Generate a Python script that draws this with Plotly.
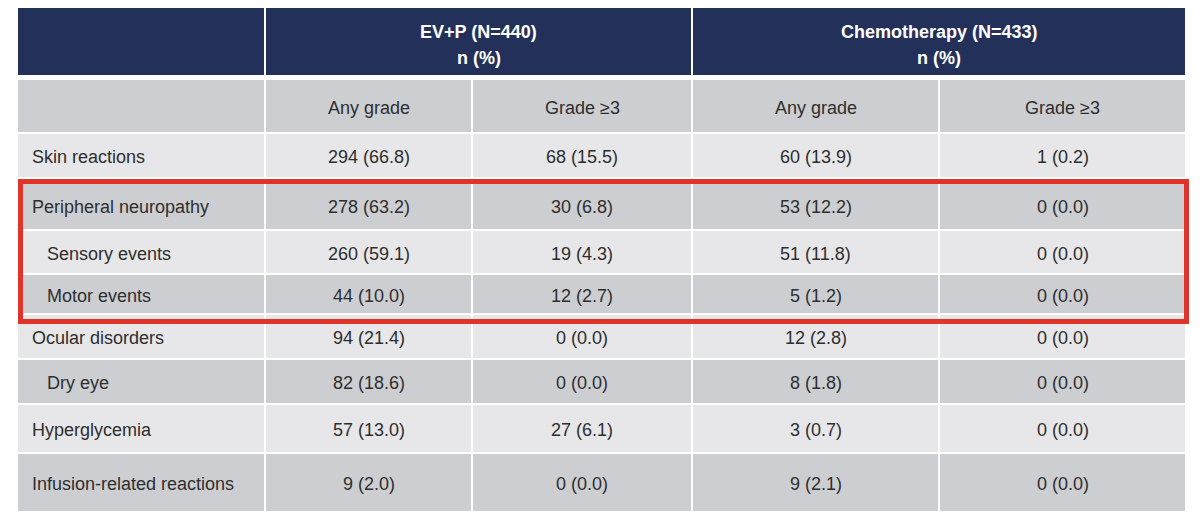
import plotly.graph_objects as go

# ---------------- data ----------------
group_titles = ["EV+P (N=440)", "Chemotherapy (N=433)"]
group_units = ["n (%)", "n (%)"]
subheaders = ["Any grade", "Grade ≥3", "Any grade", "Grade ≥3"]
categories = ["Skin reactions", "Peripheral neuropathy", "Sensory events", "Motor events",
              "Ocular disorders", "Dry eye", "Hyperglycemia", "Infusion-related reactions"]
is_subitem = [False, False, True, True, False, True, False, False]

ev_any_n = [294, 278, 260, 44, 94, 82, 57, 9]
ev_any_pct = [66.8, 63.2, 59.1, 10.0, 21.4, 18.6, 13.0, 2.0]
ev_g3_n = [68, 30, 19, 12, 0, 0, 27, 0]
ev_g3_pct = [15.5, 6.8, 4.3, 2.7, 0.0, 0.0, 6.1, 0.0]
chemo_any_n = [60, 53, 51, 5, 12, 8, 3, 9]
chemo_any_pct = [13.9, 12.2, 11.8, 1.2, 2.8, 1.8, 0.7, 2.1]
chemo_g3_n = [1, 0, 0, 0, 0, 0, 0, 0]
chemo_g3_pct = [0.2, 0.0, 0.0, 0.0, 0.0, 0.0, 0.0, 0.0]

highlight_rows = ["Peripheral neuropathy", "Sensory events", "Motor events"]

# ---------------- layout geometry ----------------
W, H = 1200, 519
OFF = 8  # page body margin
col_edges = [(18, 264), (266, 471), (473, 691), (693, 938), (940, 1185)]
header_edges = [(18, 264), (266, 691), (693, 1185)]
header_y = (8, 75)
sub_y = (80, 132)
row_y = [(134, 177), (182, 229), (231, 273), (275, 313),
         (315, 358), (360, 403), (405, 452), (454, 511)]

NAVY = "#23315A"
DARK = "#CDCED2"
LIGHT = "#E7E7E9"
RED = "#E0342A"
TXT = "#2E2E2E"
FONT = "Liberation Sans, Arial, sans-serif"

fig = go.Figure()
shapes = []
annotations = []


def rect(x0, x1, y0, y1, color):
    shapes.append(dict(type="rect", xref="x", yref="y", x0=x0, x1=x1, y0=y0, y1=y1,
                       fillcolor=color, line=dict(width=0), layer="below"))


def text(x, y, s, size=18, color=TXT, bold=False, align="center"):
    annotations.append(dict(xref="x", yref="y", x=x, y=y, text=f"<b>{s}</b>" if bold else s,
                            showarrow=False, xanchor=align, yanchor="middle", align="center",
                            font=dict(family=FONT, size=size, color=color)))


# header
for i, (x0, x1) in enumerate(header_edges):
    rect(x0, x1, header_y[0], header_y[1], NAVY)
    if i > 0:
        xc = (x0 + x1) / 2
        text(xc, 32, group_titles[i - 1], size=18, color="white", bold=True)
        text(xc, 58, group_units[i - 1], size=18, color="white", bold=True)

# subheader
for j, (x0, x1) in enumerate(col_edges):
    rect(x0, x1, sub_y[0], sub_y[1], DARK)
    if j > 0:
        text((x0 + x1) / 2, (sub_y[0] + sub_y[1]) / 2 + 1.5, subheaders[j - 1])

# body
cols = [
    (ev_any_n, ev_any_pct),
    (ev_g3_n, ev_g3_pct),
    (chemo_any_n, chemo_any_pct),
    (chemo_g3_n, chemo_g3_pct),
]
for r, cat in enumerate(categories):
    y0, y1 = row_y[r]
    ym = (y0 + y1) / 2 + 1.5
    fill = LIGHT if r % 2 == 0 else DARK
    for j, (x0, x1) in enumerate(col_edges):
        rect(x0, x1, y0, y1, fill)
    text(col_edges[0][0] + (27 if is_subitem[r] else 12), ym, cat, align="left")
    for j, (ns, ps) in enumerate(cols):
        x0, x1 = col_edges[j + 1]
        text((x0 + x1) / 2, ym, f"{ns[r]} ({ps[r]:.1f})")

# highlight box around peripheral neuropathy block
hi = [categories.index(c) for c in highlight_rows]
shapes.append(dict(type="rect", xref="x", yref="y",
                   x0=col_edges[0][0] + 2.5, x1=col_edges[-1][1] + 1.5,
                   y0=row_y[min(hi)][0] - 0.5, y1=row_y[max(hi)][1] + 8.5,
                   fillcolor="rgba(0,0,0,0)", line=dict(color=RED, width=5), layer="above"))

fig.update_layout(
    width=W, height=H,
    margin=dict(l=0, r=0, t=0, b=0),
    paper_bgcolor="white", plot_bgcolor="white",
    xaxis=dict(range=[OFF, W + OFF], visible=False, fixedrange=True),
    yaxis=dict(range=[H + OFF, OFF], visible=False, fixedrange=True),
    shapes=shapes, annotations=annotations,
    showlegend=False,
)

fig.write_html("out.html")
